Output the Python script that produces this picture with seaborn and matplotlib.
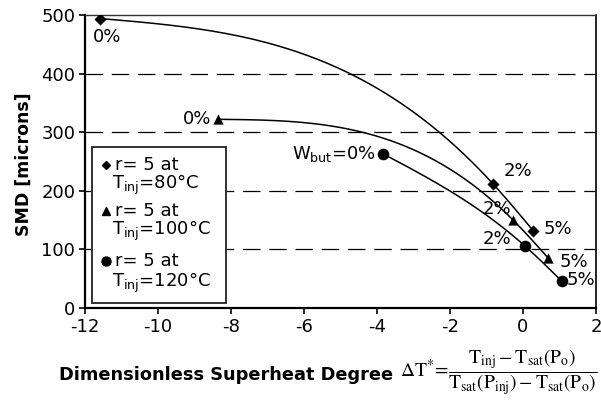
import numpy as np
import pandas as pd
import matplotlib
matplotlib.use("Agg")
import matplotlib.pyplot as plt
import seaborn as sns
from matplotlib.patches import Rectangle

# ---------------- data ----------------
butane = ["0%", "2%", "5%"]
dT_80 = [-11.59, -0.81, 0.28]
smd_80 = [494, 211, 132]
dT_100 = [-8.36, -0.27, 0.68]
smd_100 = [322, 150, 86]
dT_120 = [-3.83, 0.05, 1.06]
smd_120 = [263, 106, 46]

x_ticks = [-12, -10, -8, -6, -4, -2, 0, 2]
y_ticks = [0, 100, 200, 300, 400, 500]
legend_temps = ["80", "100", "120"]

# ---------------- style ----------------
sns.set_theme(style="white")
plt.rcParams["font.family"] = ["DejaVu Sans"]
plt.rcParams["text.color"] = "black"
plt.rcParams["axes.labelcolor"] = "black"
plt.rcParams["xtick.color"] = "black"
plt.rcParams["ytick.color"] = "black"
FS = 13


def natural_spline(xp, yp, num=200):
    xp = np.asarray(xp, float)
    yp = np.asarray(yp, float)
    n = len(xp)
    h = np.diff(xp)
    A = np.zeros((n, n))
    b = np.zeros(n)
    A[0, 0] = 1
    A[-1, -1] = 1
    for i in range(1, n - 1):
        A[i, i - 1] = h[i - 1]
        A[i, i] = 2 * (h[i - 1] + h[i])
        A[i, i + 1] = h[i]
        b[i] = 6 * ((yp[i + 1] - yp[i]) / h[i] - (yp[i] - yp[i - 1]) / h[i - 1])
    M = np.linalg.solve(A, b)
    xs_all, ys_all = [], []
    for i in range(n - 1):
        xs = np.linspace(xp[i], xp[i + 1], num)
        hi = h[i]
        ys = (M[i] * (xp[i + 1] - xs) ** 3 / (6 * hi)
              + M[i + 1] * (xs - xp[i]) ** 3 / (6 * hi)
              + (yp[i] / hi - M[i] * hi / 6) * (xp[i + 1] - xs)
              + (yp[i + 1] / hi - M[i + 1] * hi / 6) * (xs - xp[i]))
        xs_all.append(xs)
        ys_all.append(ys)
    return np.concatenate(xs_all), np.concatenate(ys_all)


fig = plt.figure(figsize=(6.01, 4.0), dpi=100)
ax = fig.add_axes([85 / 601, 1 - 308 / 400, 511 / 601, 293 / 400])

ax.set_xlim(-12, 2)
ax.set_ylim(0, 500)

# dashed gridlines
for yv in y_ticks[1:-1]:
    ax.axhline(yv, color="black", lw=0.9, linestyle=(0, (14, 7)), zorder=1)

series = [
    (dT_80, smd_80, "D", 38),
    (dT_100, smd_100, "^", 55),
    (dT_120, smd_120, "o", 70),
]
for xs, ys, mk, sz in series:
    cx, cy = natural_spline(xs, ys)
    sns.lineplot(x=cx, y=cy, sort=False, estimator=None, color="black",
                 lw=1.1, ax=ax, zorder=3)
    sns.scatterplot(x=xs, y=ys, marker=mk, s=sz, color="black",
                    edgecolor="black", linewidth=0, ax=ax, zorder=4)

# annotations (offsets in points)
ann = [
    (dT_80, smd_80, [(5, -13.5, "center"), (18, 9.5, "center"), (18, 1, "center")]),
    (dT_100, smd_100, [(-5, 0, "right"), (-12, 8, "center"), (19, -3, "center")]),
    (dT_120, smd_120, [(-5, 0, "right"), (-20, 5, "center"), (14, 0.5, "center")]),
]
for k, (xs, ys, offs) in enumerate(ann):
    for j, (ox, oy, ha) in enumerate(offs):
        txt = butane[j]
        if k == 2 and j == 0:
            txt = r"$\mathregular{W_{but}}$=" + butane[j]
        ax.annotate(txt, (xs[j], ys[j]), xytext=(ox, oy),
                    textcoords="offset points", ha=ha, va="center",
                    fontsize=FS, color="black", zorder=5)

# axes styling
ax.set_xticks(x_ticks)
ax.set_yticks(y_ticks)
ax.set_xticklabels([str(v) for v in x_ticks])
ax.set_yticklabels([str(v) for v in y_ticks])
ax.tick_params(axis="both", which="major", labelsize=FS, colors="black",
               direction="out", length=4, width=1.2, pad=3,
               bottom=True, left=True, top=False, right=False)
for s in ["left", "bottom"]:
    ax.spines[s].set_color("black")
    ax.spines[s].set_linewidth(1.6)
ax.spines["right"].set_color("black")
ax.spines["right"].set_linewidth(1.2)
ax.spines["top"].set_color("#333333")
ax.spines["top"].set_linewidth(1.0)
ax.spines["top"].set_linestyle((0, (1, 1)))
ax.set_xlabel("")
ax.set_ylabel("SMD [microns]", fontsize=12.5, fontweight="bold", color="black")
ax.yaxis.set_label_coords(-0.103, 0.49)

# manual legend
box_l, box_r = (92.3 - 85) / 511, (226 - 85) / 511
box_b, box_t = (308 - 302.7) / 293, (308 - 147.3) / 293
ax.add_patch(Rectangle((box_l, box_b), box_r - box_l, box_t - box_b,
                       transform=ax.transAxes, facecolor="white",
                       edgecolor="#222222", lw=1.3, zorder=6))
row_y1 = [165, 211, 261]
row_y2 = [185, 231, 283]
leg_marks = [("D", 4.5), ("^", 6.0), ("o", 6.5)]
for i in range(3):
    y1 = (308 - row_y1[i]) / 293
    y2 = (308 - row_y2[i]) / 293
    mk, ms = leg_marks[i]
    ax.plot([(106 - 85) / 511], [y1], marker=mk, ms=ms, color="black",
            mec="black", transform=ax.transAxes, zorder=7, clip_on=False)
    ax.text((115 - 85) / 511, y1, "r= 5 at", transform=ax.transAxes,
            fontsize=FS, va="center", ha="left", zorder=7)
    ax.text((112 - 85) / 511, y2,
            r"$\mathregular{T_{inj}}$=" + legend_temps[i] + "\u00b0C",
            transform=ax.transAxes, fontsize=FS, va="center", ha="left",
            zorder=7)

# x label: bold words + Times formula
fig.text(226 / 601, 1 - 375 / 400, "Dimensionless Superheat Degree",
         fontsize=12.8, fontweight="bold", ha="center", va="center",
         color="black")
fig.text(400 / 601, 1 - 372 / 400,
         r"$\Delta\mathrm{T}^{*}\!=\!\dfrac{\mathrm{T_{inj}-T_{sat}(P_o)}}"
         r"{\mathrm{T_{sat}(P_{inj})-T_{sat}(P_o)}}$",
         fontsize=14, ha="left", va="center", math_fontfamily="stix",
         color="black")

fig.savefig("out.png", dpi=100)
